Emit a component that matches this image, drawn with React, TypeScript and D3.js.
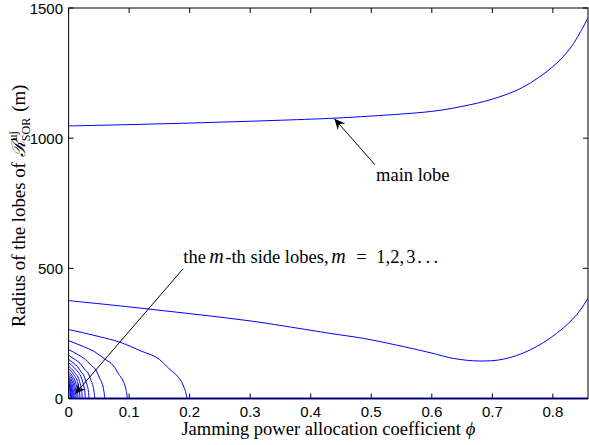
import React from "react"
import * as d3 from "d3"

// axis ticks
const xTicks = [0, 0.1, 0.2, 0.3, 0.4, 0.5, 0.6, 0.7, 0.8]
const yTicks = [0, 500, 1000, 1500]

// main lobe radius vs phi
const mainLobe: [number, number][] = [
  [0, 1047], [0.1, 1052], [0.2, 1058], [0.3, 1065], [0.4, 1073], [0.44, 1077],
  [0.5, 1085], [0.6, 1103], [0.65, 1122], [0.7, 1150], [0.75, 1195], [0.8, 1275],
  [0.83, 1350], [0.858, 1462],
]

// first side lobe (spans the whole range)
const sideLobe1: [number, number][] = [
  [0, 376], [0.1, 352], [0.2, 326], [0.3, 298], [0.4, 262], [0.432, 250],
  [0.487, 231], [0.542, 205], [0.597, 176], [0.638, 153], [0.679, 144],
  [0.718, 151], [0.762, 186], [0.806, 250], [0.839, 321], [0.858, 385],
]

// higher side lobes, they close at small phi
const sideLobe2: [number, number][] = [
  [0, 265], [0.05, 238], [0.085, 216], [0.12, 182], [0.15, 150], [0.1675, 111],
  [0.18, 85], [0.187, 62], [0.191, 40], [0.194, 20], [0.1955, 0],
]
const sideLobe3: [number, number][] = [
  [0, 222], [0.025, 199], [0.042, 181], [0.06, 151], [0.074, 126], [0.083, 93],
  [0.0893, 71], [0.0928, 52], [0.0948, 34], [0.0962, 17], [0.097, 0],
]
const sideLobe4: [number, number][] = [
  [0, 188], [0.015, 169], [0.026, 153], [0.037, 128], [0.046, 106], [0.051, 79],
  [0.055, 60], [0.057, 44], [0.0583, 28], [0.0591, 14], [0.0596, 0],
]
const sideLobe5: [number, number][] = [
  [0, 166], [0.011, 149], [0.019, 135], [0.026, 113], [0.033, 94], [0.037, 70],
  [0.0397, 53], [0.0412, 39], [0.0421, 25], [0.0428, 12], [0.0431, 0],
]
const sideLobe6: [number, number][] = [
  [0, 150], [0.0086, 135], [0.0147, 122], [0.0207, 102], [0.0258, 85], [0.0289, 63],
  [0.031, 48], [0.0323, 35], [0.0329, 23], [0.0334, 11], [0.0337, 0],
]
const sideLobe7: [number, number][] = [[0, 137], [0.0121, 111], [0.0213, 78], [0.0254, 44], [0.027, 21], [0.0276, 0]]
const sideLobe8: [number, number][] = [[0, 124], [0.0099, 100], [0.0174, 71], [0.0208, 40], [0.0221, 19], [0.0226, 0]]
const sideLobe9: [number, number][] = [[0, 114], [0.0083, 92], [0.0145, 65], [0.0173, 36], [0.0184, 17], [0.0188, 0]]
const sideLobe10: [number, number][] = [[0, 104], [0.0068, 84], [0.0119, 59], [0.0143, 33], [0.0152, 16], [0.0155, 0]]
const sideLobe11: [number, number][] = [[0, 96], [0.0056, 78], [0.0098, 55], [0.0117, 31], [0.0124, 14], [0.0127, 0]]
const sideLobe12: [number, number][] = [[0, 88], [0.0047, 71], [0.0082, 50], [0.0098, 28], [0.0104, 13], [0.0106, 0]]
const sideLobe13: [number, number][] = [[0, 81], [0.0038, 66], [0.0066, 46], [0.0079, 26], [0.0084, 12], [0.0086, 0]]
const sideLobe14: [number, number][] = [[0, 74], [0.0031, 60], [0.0054, 42], [0.0064, 24], [0.0069, 11], [0.007, 0]]
const sideLobe15: [number, number][] = [[0, 68], [0.0025, 55], [0.0043, 39], [0.0052, 22], [0.0055, 10], [0.0056, 0]]
const sideLobe16: [number, number][] = [[0, 62], [0.0019, 50], [0.0034, 35], [0.004, 20], [0.0043, 9], [0.0044, 0]]
const sideLobe17: [number, number][] = [[0, 57], [0.0015, 46], [0.0026, 32], [0.0031, 18], [0.0033, 8], [0.0034, 0]]
const sideLobe18: [number, number][] = [[0, 52], [0.0011, 42], [0.0019, 30], [0.0023, 17], [0.0024, 8], [0.0025, 0]]

// all lobes collapse to zero radius along the axis
const zeroLine: [number, number][] = [[0, 0], [0.858, 0]]

const wideCurves = [mainLobe, sideLobe1]
const closedLobes = [
  sideLobe2, sideLobe3, sideLobe4, sideLobe5, sideLobe6,
  sideLobe7, sideLobe8, sideLobe9, sideLobe10, sideLobe11, sideLobe12,
  sideLobe13, sideLobe14, sideLobe15, sideLobe16, sideLobe17, sideLobe18,
]

// annotation arrows: [tail, tip] in data coords
const mainArrow: [number, number][] = [[0.506, 898], [0.439, 1075]]
const sideArrow: [number, number][] = [[0.189, 498], [0.0106, 17]]

const W = 589, H = 445
const left = 68.6, right = 588, top = 8, bottom = 398.5

const serif = "'Liberation Serif', 'Times New Roman', serif"
const sans = "'Liberation Sans', Arial, sans-serif"

function arrowHead(x1: number, y1: number, x2: number, y2: number) {
  // filled head with a notched back, like matlab annotations
  const a = Math.atan2(y2 - y1, x2 - x1)
  const len = 11, half = 5, notch = 7
  const ux = Math.cos(a), uy = Math.sin(a)
  const px = -uy, py = ux
  const bx = x2 - ux * len, by = y2 - uy * len
  const nx = x2 - ux * notch, ny = y2 - uy * notch
  return `M${x2},${y2}L${bx + px * half},${by + py * half}L${nx},${ny}L${bx - px * half},${by - py * half}Z`
}

export default function App() {
  const x = d3.scaleLinear().domain([0, 0.858]).range([left, right])
  const y = d3.scaleLinear().domain([0, 1500]).range([bottom, top])

  const smooth = d3.line<[number, number]>()
    .x(d => x(d[0]))
    .y(d => y(d[1]))
    .curve(d3.curveCatmullRom.alpha(0.5))

  const lobe = d3.line<[number, number]>()
    .x(d => x(d[0]))
    .y(d => y(d[1]))
    .curve(d3.curveMonotoneX)

  const arrows = [mainArrow, sideArrow].map(a => {
    const [t, h] = a
    return { x1: x(t[0]), y1: y(t[1]), x2: x(h[0]), y2: y(h[1]) }
  })

  const sx = x(0.1894)

  return (
    <svg width={W} height={H} style={{ position: "absolute", left: 0, top: 0, background: "#fff" }}>
      <rect x={0} y={0} width={W} height={H} fill="#fff" />

      <defs>
        <clipPath id="plot">
          <rect x={left} y={top - 2} width={right - left} height={bottom - top + 4} />
        </clipPath>
      </defs>

      <g clipPath="url(#plot)">
        {wideCurves.map((c, i) => (
          <path key={"w" + i} d={smooth(c) ?? ""} fill="none" stroke="#0000ff" strokeWidth={1} />
        ))}
        {closedLobes.map((c, i) => (
          <path key={"c" + i} d={lobe(c) ?? ""} fill="none" stroke="#0000ff" strokeWidth={1} />
        ))}
        <path d={smooth(zeroLine) ?? ""} fill="none" stroke="#0000ff" strokeWidth={2.2} />
      </g>

      {/* frame */}
      <rect x={left} y={top} width={right - left} height={bottom - top} fill="none" stroke="#000" strokeWidth={1} />

      {/* ticks, inward on all four sides */}
      {xTicks.map(t => (
        <g key={"x" + t}>
          <line x1={x(t)} x2={x(t)} y1={bottom} y2={bottom - 5} stroke="#000" />
          <line x1={x(t)} x2={x(t)} y1={top} y2={top + 5} stroke="#000" />
          <text x={x(t)} y={417} textAnchor="middle" fontFamily={sans} fontSize={15}>{t}</text>
        </g>
      ))}
      {yTicks.map(t => (
        <g key={"y" + t}>
          <line x1={left} x2={left + 5} y1={y(t)} y2={y(t)} stroke="#000" />
          <line x1={right} x2={right - 5} y1={y(t)} y2={y(t)} stroke="#000" />
          <text x={63} y={y(t) + 5.5} textAnchor="end" fontFamily={sans} fontSize={15}>{t}</text>
        </g>
      ))}

      {/* axis titles */}
      <text x={(left + right) / 2} y={435} textAnchor="middle" fontFamily={serif} fontSize={18.5}>
        Jamming power allocation coefficient <tspan fontStyle="italic">ϕ</tspan>
      </text>
      <text transform="translate(25,327) rotate(-90)" fontFamily={serif} fontSize={18.8}>
        Radius of the lobes of <tspan fontFamily="'DejaVu Serif', serif" fontStyle="italic">ℛ</tspan>
        <tspan fontSize={12} dx={1} dy={-8}>uj</tspan>
        <tspan fontSize={12} dx={-10} dy={13}>SOR</tspan>
        <tspan dx={6} dy={-5}>(m)</tspan>
      </text>

      {/* annotations */}
      {arrows.map((a, i) => (
        <g key={"a" + i}>
          <line x1={a.x1} y1={a.y1} x2={a.x2} y2={a.y2} stroke="#000" strokeWidth={1} />
          <path d={arrowHead(a.x1, a.y1, a.x2, a.y2)} fill="#000" />
        </g>
      ))}
      <text x={x(0.508)} y={y(834)} fontFamily={serif} fontSize={18.5}>main lobe</text>
      <text y={y(520)} fontFamily={serif} fontSize={18.5}>
        <tspan x={sx}>the</tspan>
        <tspan x={sx + 26} fontStyle="italic" fontSize={20}>m</tspan>
        <tspan x={sx + 42}>-th side lobes,</tspan>
        <tspan x={sx + 148} fontStyle="italic" fontSize={20}>m</tspan>
        <tspan x={sx + 173}>=</tspan>
        <tspan x={sx + 193}>1,</tspan>
        <tspan x={sx + 207}>2,</tspan>
        <tspan x={sx + 223}>3</tspan>
        <tspan x={sx + 234} letterSpacing={3.5}>...</tspan>
      </text>
    </svg>
  )
}
